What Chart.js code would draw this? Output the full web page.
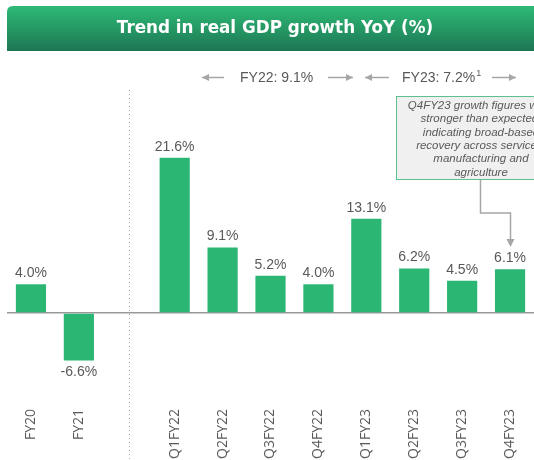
<!DOCTYPE html>
<html>
<head>
<meta charset="utf-8">
<script src="https://cdn.jsdelivr.net/npm/chart.js@4"></script>
<style>
  html, body { margin: 0; padding: 0; background: #fff; }
  #wrap { position: relative; width: 534px; height: 460px; }
</style>
</head>
<body>
<div id="wrap"><canvas id="gdpChart" width="534" height="460"></canvas></div>
<script>
// categories (empty slot = gap between annual and quarterly figures)
const categories = ['FY20', 'FY21', '', 'Q1FY22', 'Q2FY22', 'Q3FY22', 'Q4FY22', 'Q1FY23', 'Q2FY23', 'Q3FY23', 'Q4FY23'];
const growth = [4.0, -6.6, null, 21.6, 9.1, 5.2, 4.0, 13.1, 6.2, 4.5, 6.1];

const calloutLines = [
  'Q4FY23 growth figures were',
  'stronger than expected,',
  'indicating broad-based',
  'recovery across services,',
  'manufacturing and',
  'agriculture'
];

const GREEN = '#2bb673';
const GREY_TEXT = '#595959';

function arrow(ctx, x1, x2, y, dir) {
  ctx.beginPath();
  ctx.moveTo(x1, y);
  ctx.lineTo(x2, y);
  ctx.stroke();
  const tip = dir > 0 ? x2 : x1;
  ctx.beginPath();
  ctx.moveTo(tip, y);
  ctx.lineTo(tip - dir * 7, y - 3.5);
  ctx.lineTo(tip - dir * 7, y + 3.5);
  ctx.closePath();
  ctx.fill();
}

const decorations = {
  id: 'decorations',
  beforeDraw(chart) {
    const ctx = chart.ctx;
    ctx.save();
    // title bar
    const g = ctx.createLinearGradient(0, 6, 0, 51);
    g.addColorStop(0, '#2dbb76');
    g.addColorStop(1, '#1d7653');
    ctx.fillStyle = g;
    ctx.beginPath();
    ctx.moveTo(7, 51);
    ctx.lineTo(7, 12);
    ctx.quadraticCurveTo(7, 6, 13, 6);
    ctx.lineTo(534, 6);
    ctx.lineTo(534, 51);
    ctx.closePath();
    ctx.fill();
    ctx.fillStyle = '#fff';
    ctx.font = 'bold 16.8px "DejaVu Sans", sans-serif';
    ctx.textAlign = 'center';
    ctx.textBaseline = 'middle';
    ctx.fillText('Trend in real GDP growth YoY (%)', 275, 29);

    // dotted separator
    const x = chart.scales.x.getPixelForValue(2) + 2;
    ctx.strokeStyle = '#aaaaaa';
    ctx.lineWidth = 1;
    ctx.setLineDash([1, 3]);
    ctx.beginPath();
    ctx.moveTo(Math.round(x) + 0.5, 90);
    ctx.lineTo(Math.round(x) + 0.5, 460);
    ctx.stroke();
    ctx.setLineDash([]);
    ctx.restore();
  },
  afterDatasetsDraw(chart) {
    const ctx = chart.ctx;
    const meta = chart.getDatasetMeta(0);
    ctx.save();
    // value labels
    ctx.fillStyle = GREY_TEXT;
    ctx.font = '14px "Liberation Sans", sans-serif';
    ctx.textAlign = 'center';
    meta.data.forEach((bar, i) => {
      const v = growth[i];
      if (v === null) return;
      const txt = v.toFixed(1) + '%';
      if (v >= 0) {
        ctx.textBaseline = 'bottom';
        ctx.fillText(txt, bar.x, bar.y - 4);
      } else {
        ctx.textBaseline = 'top';
        ctx.fillText(txt, bar.x, bar.y + 5);
      }
    });

    // period annotations
    ctx.strokeStyle = '#a6a6a6';
    ctx.fillStyle = '#a6a6a6';
    ctx.lineWidth = 1.5;
    arrow(ctx, 202, 224, 77.5, -1);
    arrow(ctx, 328, 353, 77.5, 1);
    arrow(ctx, 365, 389, 77.5, -1);
    arrow(ctx, 492, 516, 77.5, 1);
    ctx.fillStyle = GREY_TEXT;
    ctx.font = '14px "Liberation Sans", sans-serif';
    ctx.textAlign = 'left';
    ctx.textBaseline = 'middle';
    ctx.fillText('FY22: 9.1%', 240, 78);
    ctx.fillText('FY23: 7.2%', 402, 78);
    const w = ctx.measureText('FY23: 7.2%').width;
    ctx.font = '9px "Liberation Sans", sans-serif';
    ctx.fillText('1', 402 + w + 1, 74);

    // callout box
    ctx.fillStyle = '#f0f0f0';
    ctx.fillRect(396, 96, 170, 83);
    ctx.strokeStyle = '#5cc28d';
    ctx.lineWidth = 1;
    ctx.strokeRect(396.5, 96.5, 170, 83);
    ctx.fillStyle = GREY_TEXT;
    ctx.font = 'italic 11.5px "Liberation Sans", sans-serif';
    ctx.textAlign = 'center';
    calloutLines.forEach((line, i) => {
      ctx.fillText(line, 481, 105.5 + i * 13.4);
    });

    // connector to Q4FY23 bar
    const last = meta.data[meta.data.length - 1];
    const tx = Math.round(last.x) + 0.5;
    ctx.strokeStyle = '#a6a6a6';
    ctx.fillStyle = '#a6a6a6';
    ctx.lineWidth = 1.5;
    ctx.beginPath();
    ctx.moveTo(480.5, 180);
    ctx.lineTo(480.5, 213);
    ctx.lineTo(tx, 213);
    ctx.lineTo(tx, 240);
    ctx.stroke();
    ctx.beginPath();
    ctx.moveTo(tx, 247);
    ctx.lineTo(tx - 4, 239);
    ctx.lineTo(tx + 4, 239);
    ctx.closePath();
    ctx.fill();
    ctx.restore();
  }
};

new Chart(document.getElementById('gdpChart'), {
  type: 'bar',
  data: {
    labels: categories,
    datasets: [{
      data: growth,
      backgroundColor: GREEN,
      barPercentage: 0.63,
      categoryPercentage: 1
    }]
  },
  options: {
    responsive: false,
    animation: false,
    layout: { padding: { top: 60, left: 7, right: 0, bottom: 0 } },
    plugins: {
      legend: { display: false },
      tooltip: { enabled: false }
    },
    scales: {
      x: {
        grid: { display: false },
        border: { display: false },
        afterFit(scale) { scale.height = 60; },
        ticks: {
          minRotation: 90,
          maxRotation: 90,
          padding: 1,
          color: GREY_TEXT,
          font: { family: '"Open Sans", sans-serif', size: 14 }
        }
      },
      y: {
        display: true,
        min: -12.1,
        max: 35.2,
        afterFit(scale) { scale.width = 0; },
        ticks: { display: false },
        border: { display: false },
        grid: {
          drawTicks: false,
          color: ctx => ctx.tick.value === 0 ? '#999999' : 'rgba(0,0,0,0)',
          lineWidth: 1.5
        }
      }
    }
  },
  plugins: [decorations]
});
</script>
</body>
</html>
